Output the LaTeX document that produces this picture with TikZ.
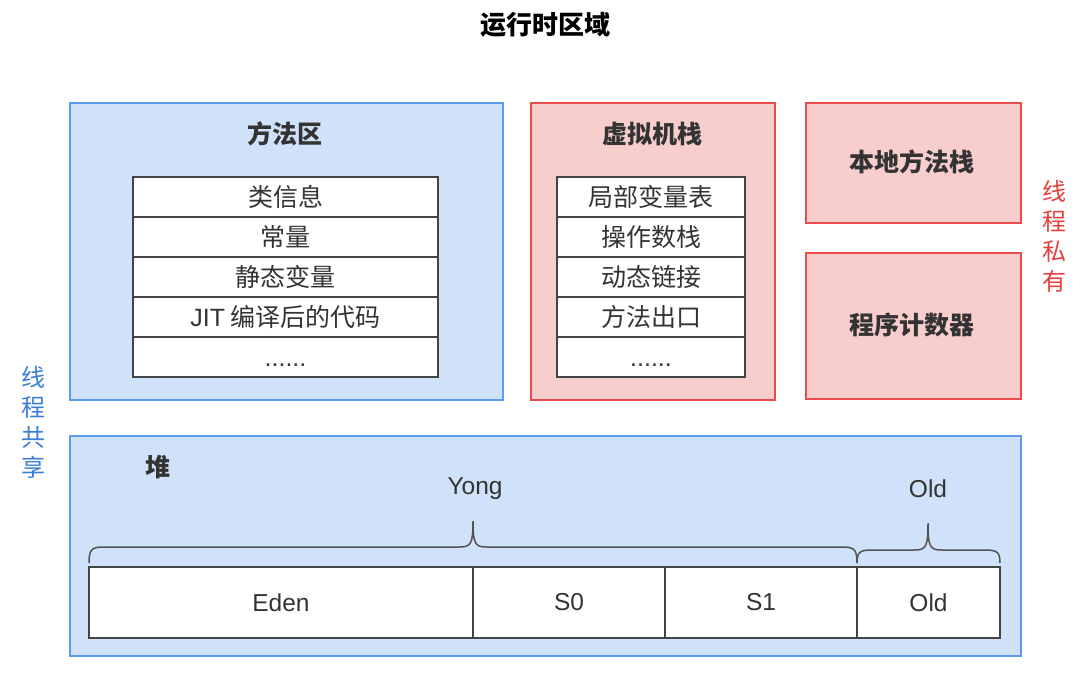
\documentclass[tikz,border=0pt]{standalone}
\usepackage{fontspec}
\setmainfont{Liberation Sans}
\newfontfamily\cjk{Noto Sans CJK SC}
\newfontfamily\lat{Liberation Sans}
\definecolor{blueFill}{HTML}{D0E2F9}
\definecolor{blueLine}{HTML}{5B9BF0}
\definecolor{redFill}{HTML}{F8CECC}
\definecolor{redLine}{HTML}{EA4B4B}
\definecolor{redText}{HTML}{E8403A}
\definecolor{blueText}{HTML}{3B7DD8}
\definecolor{darkText}{HTML}{333333}
\definecolor{tableLine}{HTML}{444444}
\begin{document}
\begin{tikzpicture}[x=1pt,y=-1pt,
  bluebox/.style={draw=blueLine,fill=blueFill,line width=2pt,anchor=north west,inner sep=0pt},
  redbox/.style={draw=redLine,fill=redFill,line width=2pt,anchor=north west,inner sep=0pt},
  rowcell/.style={draw=tableLine,fill=white,line width=1.8pt,inner sep=0pt,minimum height=40pt,
     font={\cjk\fontsize{25}{28}\selectfont},text=darkText},
  heapcell/.style={draw=tableLine,fill=white,line width=1.5pt,inner sep=0pt,minimum height=71pt,
     font={\fontsize{24.5}{28}\selectfont},text=darkText},
  boxtitle/.style={font={\cjk\bfseries\fontsize{25}{28}\selectfont},text=darkText},
  latlabel/.style={font={\fontsize{24.5}{28}\selectfont},text=darkText},
  vtext/.style={align=center,font={\cjk\fontsize{24}{30}\selectfont}},
  bracestyle/.style={draw=darkText!85,line width=1.5pt}
]
\useasboundingbox (0,0) rectangle (1092,672);
\fill[white] (0,0) rectangle (1092,672);

\node[font={\cjk\bfseries\fontsize{26}{30}\selectfont},text=black] (title) at (545,25) {运行时区域};

% Method area
\node[bluebox,minimum width=433pt,minimum height=297pt] (ma) at (69,102) {};
\node[boxtitle] (matitle) at (285,134) {方法区};
\node[rowcell,minimum width=305pt] (ma1) at (285.5,197) {类信息};
\node[rowcell,minimum width=305pt] (ma2) at (285.5,237) {常量};
\node[rowcell,minimum width=305pt] (ma3) at (285.5,277) {静态变量};
\node[rowcell,minimum width=305pt] (ma4) at (285.5,317) {{\lat JIT} 编译后的代码};
\node[rowcell,minimum width=305pt] (ma5) at (285.5,357) {\vphantom{类}{\lat ......}};

% VM stack
\node[redbox,minimum width=244pt,minimum height=297pt] (vm) at (530,102) {};
\node[boxtitle] (vmtitle) at (652,134) {虚拟机栈};
\node[rowcell,minimum width=188pt] (vm1) at (651,197) {局部变量表};
\node[rowcell,minimum width=188pt] (vm2) at (651,237) {操作数栈};
\node[rowcell,minimum width=188pt] (vm3) at (651,277) {动态链接};
\node[rowcell,minimum width=188pt] (vm4) at (651,317) {方法出口};
\node[rowcell,minimum width=188pt] (vm5) at (651,357) {\vphantom{类}{\lat ......}};

% Native method stack & PC
\node[redbox,minimum width=215pt,minimum height=120pt] (nm) at (805,102) {};
\node[boxtitle] (nmtitle) at (912,162) {本地方法栈};
\node[redbox,minimum width=215pt,minimum height=146pt] (pc) at (805,252) {};
\node[boxtitle] (pctitle) at (912,325) {程序计数器};

% side labels
\node[vtext,text=redText] (priv) at (1054,236) {线\\程\\私\\有};
\node[vtext,text=blueText] (shared) at (33,422) {线\\程\\共\\享};

% Heap
\node[bluebox,minimum width=951pt,minimum height=220pt] (heap) at (69,435) {};
\node[boxtitle] (heaptitle) at (158,467) {堆};
\node[heapcell,minimum width=384pt] (eden) at (281,602.5) {Eden};
\node[heapcell,minimum width=192pt] (s0) at (569,602.5) {S0};
\node[heapcell,minimum width=192pt] (s1) at (761,602.5) {S1};
\node[heapcell,minimum width=143pt] (old) at (928.5,602.5) {Old};

\node[latlabel] (yong) at (475,489) {Yong};
\node[latlabel] (oldlbl) at (928,489) {Old};

% braces
\coordinate (ya) at (89,563);
\coordinate (yb) at (857,563);
\coordinate (yt) at (473,521);
\draw[bracestyle] (ya) .. controls (89,549) and (92,547) .. (104,547)
  -- (459,547) .. controls (471,547) and (473,544) .. (yt)
  .. controls (473,544) and (475,547) .. (487,547)
  -- (842,547) .. controls (854,547) and (857,549) .. (yb);
\coordinate (oa) at (857,563);
\coordinate (ob) at (1000,563);
\coordinate (ot) at (928,523);
\draw[bracestyle] (oa) .. controls (857,552) and (860,550) .. (872,550)
  -- (914,550) .. controls (926,550) and (928,547) .. (ot)
  .. controls (928,547) and (930,550) .. (942,550)
  -- (985,550) .. controls (997,550) and (1000,552) .. (ob);
\end{tikzpicture}
\end{document}
